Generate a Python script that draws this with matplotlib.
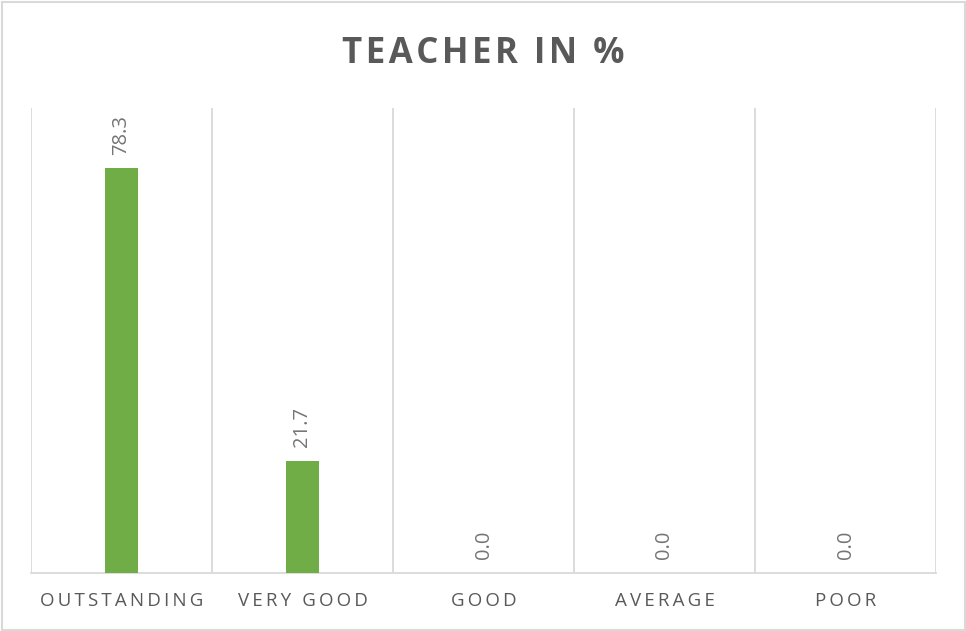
import matplotlib
matplotlib.use("Agg")
import matplotlib.pyplot as plt
from matplotlib.patches import Rectangle

# ratings and share of answers (%)
categories = ["OUTSTANDING", "VERY GOOD", "GOOD", "AVERAGE", "POOR"]
values = [78.3, 21.7, 0.0, 0.0, 0.0]
title = "TEACHER IN %"

plt.rcParams['font.family'] = ['Open Sans', 'DejaVu Sans']

bar_col = '#70AD47'
txt_col = '#595959'
grid_col = '#D9D9D9'


def spaced(s, sep):
    # poor man's letter spacing
    return sep.join(s)


fig = plt.figure(figsize=(9.66, 6.31), dpi=100)
ax = fig.add_axes([31 / 966, 58 / 631, 905 / 966, 465 / 631])

x = list(range(len(categories)))
ax.bar(x, values, width=0.182, color=bar_col, zorder=3)

ax.set_xlim(-0.5, len(categories) - 0.5)
ax.set_ylim(0, 90)

# vertical separators between categories
for i in range(len(categories) + 1):
    ax.axvline(i - 0.5, color=grid_col, lw=1.3, zorder=1)

for s in ['top', 'left', 'right']:
    ax.spines[s].set_visible(False)
ax.spines['bottom'].set_color(grid_col)
ax.spines['bottom'].set_linewidth(1.3)
ax.set_yticks([])
ax.set_xticks(x)
ax.set_xticklabels([spaced(c, '\u2009') for c in categories],
                   fontsize=13.5, color=txt_col)
ax.tick_params(axis='x', length=0, pad=14)

for xi, v in zip(x, values):
    ax.annotate(f"{v:.1f}", (xi, v), xytext=(0, 10), textcoords='offset points',
                rotation=90, ha='center', va='bottom', fontsize=14.5,
                color='#757575')

fig.text(0.5, 0.915, spaced(title, '\u200a'), ha='center', va='center',
         fontsize=25, fontweight='bold', color=txt_col)

# thin frame round the whole chart
fig.patches.append(Rectangle((1.5 / 966, 1.5 / 631), 963 / 966, 628 / 631,
                             transform=fig.transFigure, fill=False,
                             edgecolor=grid_col, lw=1.5))

fig.savefig("out.png", dpi=100, facecolor='white')
